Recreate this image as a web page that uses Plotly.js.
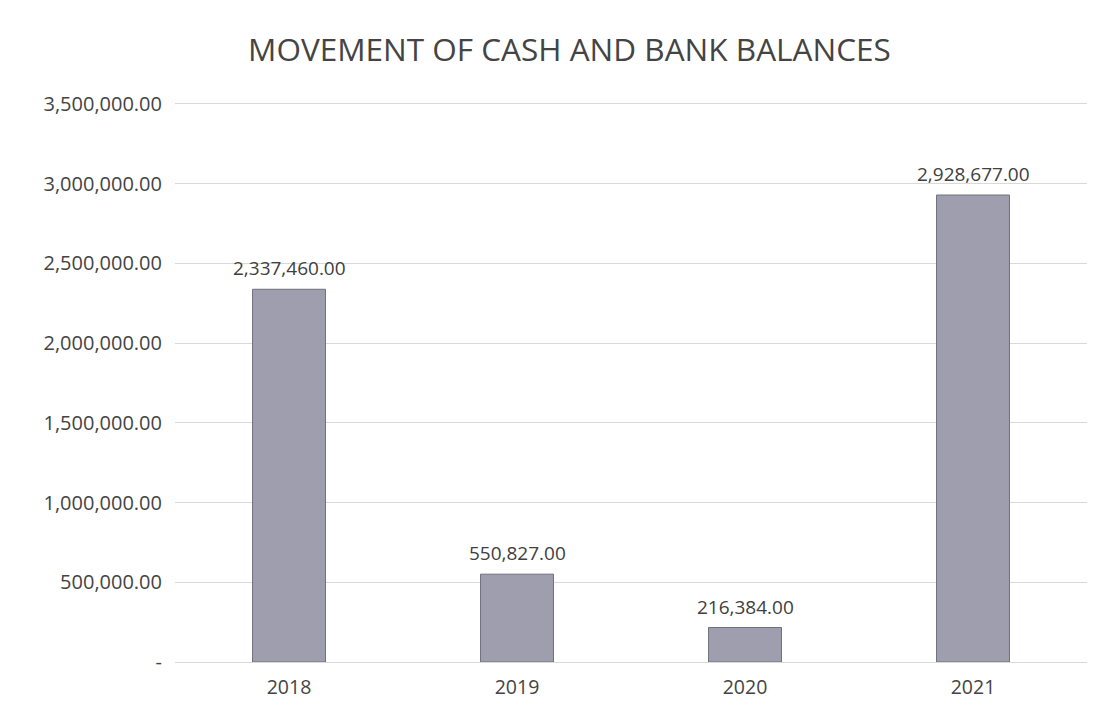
<!DOCTYPE html>
<html>
<head>
<meta charset="utf-8">
<script src="https://cdn.plot.ly/plotly-3.0.1.min.js"></script>
<style>html,body{margin:0;padding:0;background:#fff;}#chart{width:1110px;height:720px;}</style>
</head>
<body>
<div id="chart"></div>
<script>
const categories = ['2018', '2019', '2020', '2021'];
const balances = [2337460, 550827, 216384, 2928677];
const tickValues = [0, 500000, 1000000, 1500000, 2000000, 2500000, 3000000, 3500000];
const tickLabels = ['-', '500,000.00', '1,000,000.00', '1,500,000.00', '2,000,000.00', '2,500,000.00', '3,000,000.00', '3,500,000.00'];

const fmt = v => v.toLocaleString('en-US', {minimumFractionDigits: 2, maximumFractionDigits: 2});
const labels = balances.map(fmt);

const FONT = 'Open Sans, sans-serif';

const trace = {
  type: 'bar',
  x: categories,
  y: balances,
  marker: {color: '#9e9eae', line: {color: '#70707e', width: 1}},
  hoverinfo: 'none'
};

const annotations = categories.map((c, i) => ({
  x: i, y: balances[i], xref: 'x', yref: 'y',
  text: labels[i], showarrow: false,
  xanchor: 'center', yanchor: 'bottom', yshift: 6,
  font: {family: FONT, size: 19, color: '#404040'}
}));

const layout = {
  width: 1110,
  height: 720,
  margin: {l: 175, r: 23, t: 102, b: 58},
  paper_bgcolor: '#ffffff',
  plot_bgcolor: '#ffffff',
  bargap: 0.68,
  showlegend: false,
  annotations: annotations,
  title: {
    text: 'MOVEMENT OF CASH AND BANK BALANCES',
    x: 0.513, xanchor: 'center',
    y: 0.93, yanchor: 'middle',
    font: {family: FONT, size: 31.5, color: '#444444'}
  },
  xaxis: {
    type: 'category',
    categoryorder: 'array',
    categoryarray: categories,
    tickfont: {family: FONT, size: 19.5, color: '#444444'},
    showgrid: false,
    showline: true,
    linecolor: '#d9d9d9',
    ticks: 'outside',
    ticklen: 8,
    tickcolor: 'rgba(0,0,0,0)'
  },
  yaxis: {
    range: [0, 3512000],
    tickvals: tickValues,
    ticktext: tickLabels,
    tickfont: {family: FONT, size: 20, color: '#444444'},
    showgrid: true,
    gridcolor: '#d9d9d9',
    gridwidth: 1,
    zeroline: false,
    showline: false,
    ticks: '',
    ticklabelstandoff: 12
  },
  font: {family: FONT}
};

Plotly.newPlot('chart', [trace], layout, {displayModeBar: false, staticPlot: true});
</script>
</body>
</html>
